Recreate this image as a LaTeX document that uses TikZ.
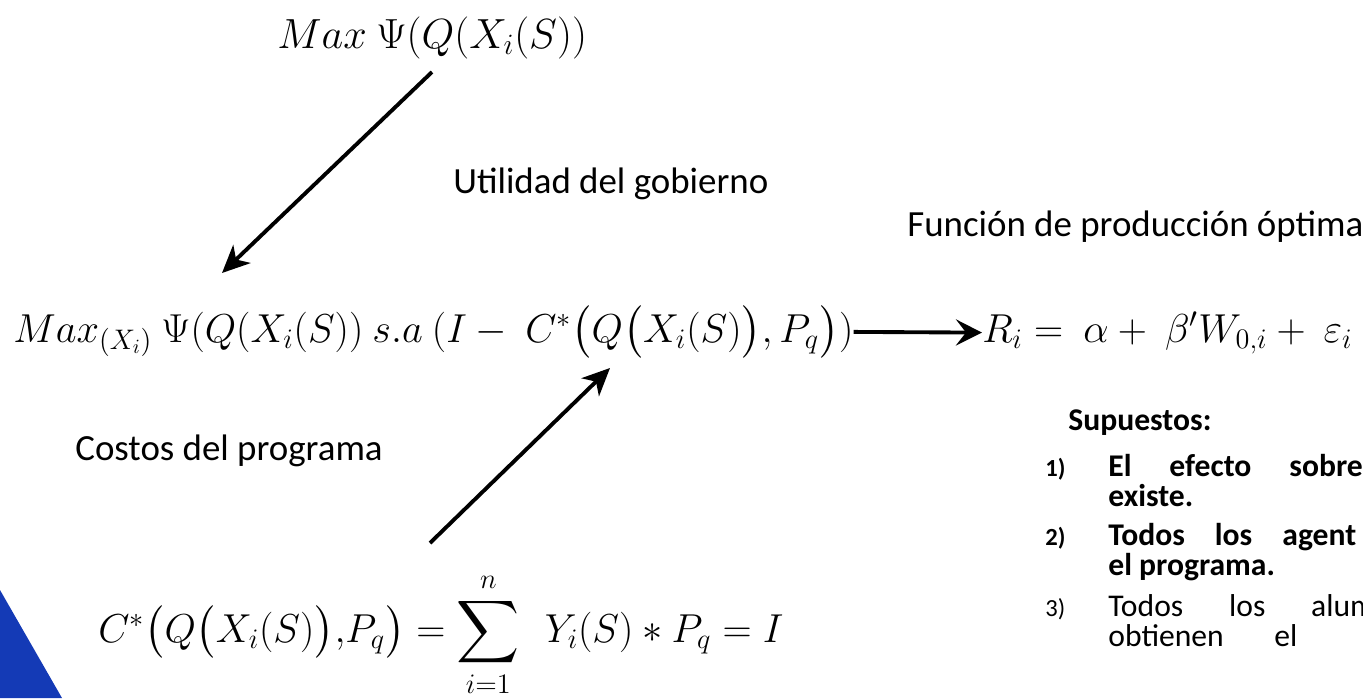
\RequirePackage{fix-cm}
\documentclass[tikz,border=0pt]{standalone}
\usepackage{amsmath}
\usepackage[no-math]{fontspec}
\setmainfont{Carlito}
\usepackage{xcolor}
\usepackage{tikz}
\usetikzlibrary{arrows.meta}
\definecolor{uahblue}{RGB}{20,58,182}
\tikzset{
  lbl/.style={font=\fontsize{21}{25}\selectfont, inner sep=0pt, anchor=base west},
  eqn/.style={font=\fontsize{23}{28}\selectfont, inner sep=0pt, anchor=base west},
  supl/.style={font=\fontsize{18}{21}\selectfont\bfseries, inner sep=0pt, anchor=base west},
  itm/.style={font=\fontsize{18}{21}\selectfont, inner sep=0pt, anchor=base west},
  num/.style={font=\fontsize{14}{17}\selectfont, inner sep=0pt, anchor=base west},
  arr/.style={-{Stealth[length=5.5mm,width=5mm,inset=1.6mm]}, line width=2.2pt},
  harr/.style={-{Stealth[length=5.2mm,width=5.2mm,inset=2mm]}, line width=2.2pt}
}

\begin{document}
\begin{tikzpicture}[x=0.02cm,y=-0.02cm]
  \useasboundingbox (0,0) rectangle (1363,698);
  \clip (0,0) rectangle (1363,698);
  % logo corner
  \fill[uahblue] (0,590) -- (62,698) -- (0,698) -- cycle;

  % formulas
  \node[eqn, font=\fontsize{24}{29}\selectfont] (maxtop) at (277,48) {$Max\ \Psi(Q(X_i(S))$};
  \node[eqn] (maxsa) at (13,342)
    {$Max_{(X_i)}\ \Psi(Q(X_i(S))\ s.a\ (I-\ C^*\bigl(Q\bigl(X_i(S)\bigr),P_q\bigr))$};
  \node[eqn] (prod) at (982,342) {$R_i=\ \alpha+\ \beta'W_{0,i}+\ \varepsilon_i$};
  \node[eqn] (cost) at (98,642)
    {$C^*\bigl(Q\bigl(X_i(S)\bigr){,}P_q\bigr)=\displaystyle\sum_{i=1}^{n}\ \ Y_i(S)*P_q=I$};

  % labels
  \node[lbl] (util) at (453,193) {Utilidad del gobierno};
  \node[lbl] (funcion) at (907,236) {Función de producción óptima};
  \node[lbl] (costos) at (75,460) {Costos del programa};

  % assumptions
  \node[supl] (supuestos) at (1068,430) {Supuestos:};
  \node[num, font=\fontsize{14}{17}\selectfont\bfseries] (n1) at (1045,476) {1)};
  \node[supl] (s1a) at (1108,476) {El\hspace{1.2em}efecto\hspace{1.2em}sobre};
  \node[supl] (s1b) at (1108,506) {existe.};
  \node[num, font=\fontsize{14}{17}\selectfont\bfseries] (n2) at (1045,545) {2)};
  \node[supl] (s2a) at (1108,545) {Todos\hspace{0.95em}los\hspace{0.95em}agent};
  \node[supl] (s2b) at (1108,575) {el programa.};
  \node[num] (n3) at (1045,616) {3)};
  \node[itm] (s3a) at (1108,616) {Todos\hspace{1.45em}los\hspace{1.45em}alum};
  \node[itm] (s3b) at (1108,646) {obtienen\hspace{1.6em}el};

  % arrows
  \coordinate (a1s) at (432,72);
  \coordinate (a1e) at (222,273);
  \draw[arr] (a1s) -- (a1e);
  \draw[harr] (maxsa.east) -- (prod.west);
  \coordinate (a3s) at (430,543);
  \coordinate (a3e) at (610,368);
  \draw[arr] (a3s) -- (a3e);
\end{tikzpicture}
\end{document}
